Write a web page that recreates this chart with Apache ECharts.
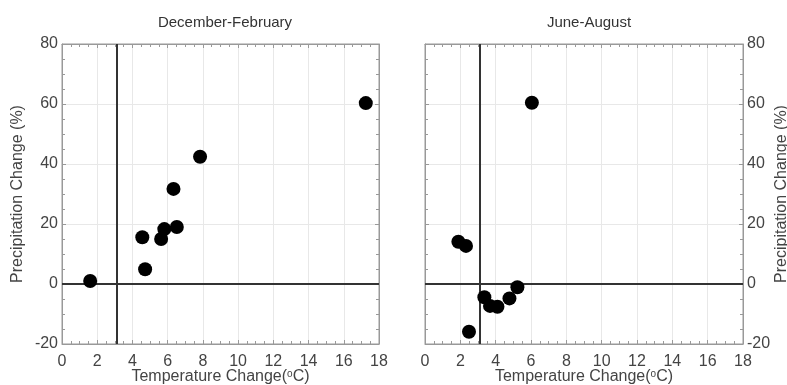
<!DOCTYPE html>
<html>
<head>
<meta charset="utf-8">
<script src="https://cdn.jsdelivr.net/npm/echarts@6/dist/echarts.min.js"></script>
<style>
  html, body { margin: 0; padding: 0; background: #fff; }
  #chart { width: 787px; height: 385px; }
</style>
</head>
<body>
<div id="chart"></div>
<script>
// Seasonal temperature vs precipitation change
const panelTitles = ['December-February', 'June-August'];

const decTemp   = [1.6, 4.56, 4.72, 5.63, 5.81, 6.33, 6.52, 7.84, 17.25];
const decPrecip = [1.0, 15.6, 4.9, 15.0, 18.3, 31.7, 19.0, 42.4, 60.3];

const junTemp   = [1.89, 2.32, 2.49, 3.36, 3.68, 4.1, 4.78, 5.23, 6.05];
const junPrecip = [14.1, 12.7, -15.9, -4.4, -7.3, -7.6, -4.8, -1.1, 60.4];

// reference lines
const tempRef = 3.1;
const precipRef = 0;

const xTicks = [0, 2, 4, 6, 8, 10, 12, 14, 16, 18];
const yTicks = [-20, 0, 20, 40, 60, 80];

const FONT = 'Liberation Sans';
const labelColor = '#444';
const frameColor = '#999';

const grids = [
  { left: 62, top: 44, width: 317, height: 300, outerBoundsMode: 'none', containLabel: false,
    show: true, borderColor: frameColor, borderWidth: 1, backgroundColor: 'transparent' },
  { left: 425, top: 44, width: 318, height: 300, outerBoundsMode: 'none', containLabel: false,
    show: true, borderColor: frameColor, borderWidth: 1, backgroundColor: 'transparent' }
];

function xAxisFor(gridIndex, showLabels) {
  return {
    type: 'value', gridIndex: gridIndex,
    position: showLabels ? 'bottom' : 'top',
    min: xTicks[0], max: xTicks[xTicks.length - 1], interval: xTicks[1] - xTicks[0],
    name: showLabels ? '{t|Temperature Change(}{sup|o}{t|C)}' : '',
    nameLocation: 'middle', nameGap: 33, nameMoveOverlap: false,
    nameTextStyle: {
      fontFamily: FONT, fontSize: 16, color: labelColor, verticalAlign: 'middle', lineHeight: 16,
      rich: {
        t: { fontFamily: FONT, fontSize: 16, color: labelColor, lineHeight: 16 },
        sup: { fontFamily: FONT, fontSize: 10, color: labelColor, lineHeight: 16, verticalAlign: 'top' }
      }
    },
    axisLine: { show: true, onZero: false, lineStyle: { color: frameColor, width: 1 } },
    axisTick: { show: true, inside: true, length: 4, lineStyle: { color: frameColor } },
    minorTick: { show: true, splitNumber: 4, length: 3, lineStyle: { color: frameColor } },
    axisLabel: { show: showLabels, fontFamily: FONT, fontSize: 16, color: labelColor, margin: 10 },
    splitLine: { show: showLabels, lineStyle: { color: '#e8e8e8', width: 1 } }
  };
}

function yAxisFor(gridIndex, side, showLabels) {
  return {
    type: 'value', gridIndex: gridIndex, position: side,
    min: yTicks[0], max: yTicks[yTicks.length - 1], interval: yTicks[1] - yTicks[0],
    name: showLabels ? 'Precipitation Change (%)' : '',
    nameLocation: 'middle', nameGap: side === 'left' ? 36 : 31, nameRotate: 90, nameMoveOverlap: false,
    nameTextStyle: { fontFamily: FONT, fontSize: 16, color: labelColor },
    axisLine: { show: true, onZero: false, lineStyle: { color: frameColor, width: 1 } },
    axisTick: { show: true, inside: true, length: 4, lineStyle: { color: frameColor } },
    minorTick: { show: true, splitNumber: 4, length: 3, lineStyle: { color: frameColor } },
    axisLabel: { show: showLabels, fontFamily: FONT, fontSize: 16, color: labelColor, margin: 4 },
    splitLine: { show: showLabels, lineStyle: { color: '#e8e8e8', width: 1 } }
  };
}

function zip(xs, ys) { return xs.map((x, i) => [x, ys[i]]); }

function scatterFor(i, xs, ys) {
  return {
    type: 'scatter', xAxisIndex: i * 2, yAxisIndex: i * 2,
    data: zip(xs, ys), symbolSize: 14,
    itemStyle: { color: '#000', opacity: 1 },
    z: 5,
    markLine: {
      silent: true, symbol: ['none', 'none'], label: { show: false },
      lineStyle: { color: '#333', width: 2, type: 'solid', opacity: 1 },
      data: [{ xAxis: tempRef }, { yAxis: precipRef }]
    }
  };
}

const chart = echarts.init(document.getElementById('chart'), null, { renderer: 'canvas' });
chart.setOption({
  animation: false,
  backgroundColor: '#fff',
  title: [
    { text: panelTitles[0], left: 220, top: 10, textAlign: 'center',
      textStyle: { fontFamily: FONT, fontSize: 15, fontWeight: 'normal', color: '#333' } },
    { text: panelTitles[1], left: 584, top: 10, textAlign: 'center',
      textStyle: { fontFamily: FONT, fontSize: 15, fontWeight: 'normal', color: '#333' } }
  ],
  grid: grids,
  xAxis: [xAxisFor(0, true), xAxisFor(0, false), xAxisFor(1, true), xAxisFor(1, false)],
  yAxis: [yAxisFor(0, 'left', true), yAxisFor(0, 'right', false), yAxisFor(1, 'right', true), yAxisFor(1, 'left', false)],
  series: [scatterFor(0, decTemp, decPrecip), scatterFor(1, junTemp, junPrecip)]
});
</script>
</body>
</html>
